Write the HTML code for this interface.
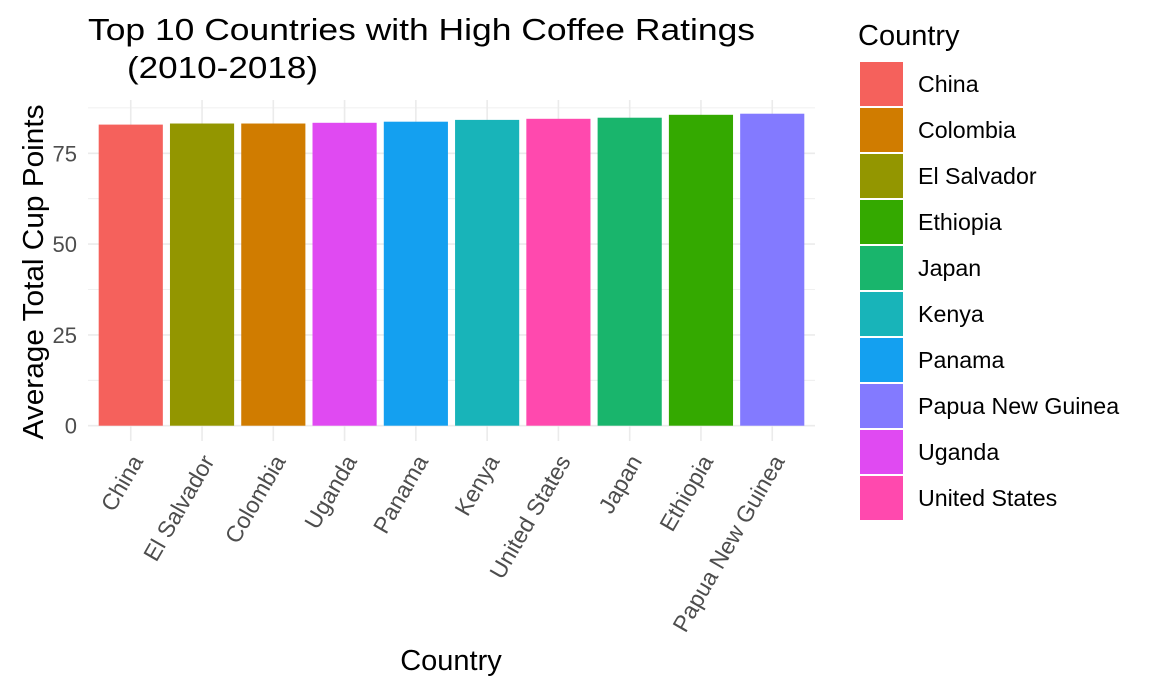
<!DOCTYPE html>
<html><head><meta charset="utf-8"><style>
body{margin:0;background:#fff;font-family:"Liberation Sans",Arial,sans-serif;}
svg text{font-family:"Liberation Sans",Arial,sans-serif;}
</style></head><body>
<svg id="chart" width="1152" height="691">
<text x="88" y="40" font-size="31" textLength="667" lengthAdjust="spacingAndGlyphs" fill="#000">Top 10 Countries with High Coffee Ratings</text>
<text x="127" y="78" font-size="31" textLength="191" lengthAdjust="spacingAndGlyphs" fill="#000">(2010-2018)</text>
<g id="grid"></g><g id="bars"></g><g id="yticks"></g><g id="xticks"></g><g id="legend"></g>
<text x="0" y="0" font-size="29" textLength="335" lengthAdjust="spacingAndGlyphs" transform="translate(43,272) rotate(-90)" text-anchor="middle" fill="#000">Average Total Cup Points</text>
<text x="451" y="670" font-size="29" text-anchor="middle" fill="#000">Country</text>
</svg>
<script>
const categories=["China","El Salvador","Colombia","Uganda","Panama","Kenya","United States","Japan","Ethiopia","Papua New Guinea"];
const values=[82.9,83.2,83.2,83.4,83.7,84.2,84.5,84.8,85.6,85.9];
const colors=["#F5615C","#939600","#D07C00","#E04AF2","#14A0F0","#18B4B9","#FF49AE","#19B56C","#34A900","#837AFF"];
const yTicks=[0,25,50,75];
const legendNames=["China","Colombia","El Salvador","Ethiopia","Japan","Kenya","Panama","Papua New Guinea","Uganda","United States"];
const legendColors=["#F5615C","#D07C00","#939600","#34A900","#19B56C","#18B4B9","#14A0F0","#837AFF","#E04AF2","#FF49AE"];
const NS="http://www.w3.org/2000/svg";
const L=88,R=815,T=100,B=441;
const y0=425.7,pxPer=3.632;
function y(v){return y0-v*pxPer;}
const step=(R-L)/(categories.length+0.2);
function x(i){return L+step*(i+0.6);}
function mk(tag,attrs,parent){const e=document.createElementNS(NS,tag);for(const k in attrs)e.setAttribute(k,attrs[k]);document.getElementById(parent).appendChild(e);return e;}
for(let v=0;v<=87.5;v+=12.5){
  const major=v%25===0;
  const g=mk('line',{x1:L,x2:R,y1:y(v),y2:y(v),stroke:'#ebebeb','stroke-width':major?1.6:0.8},'grid');
  
  
}
categories.forEach((c,i)=>{
  const g=mk('line',{x1:x(i),x2:x(i),y1:T,y2:B,stroke:'#ebebeb','stroke-width':1.6},'grid');
  
  
  const bw=step*0.9;
  const b=mk('rect',{x:x(i)-bw/2,y:y(values[i]),width:bw,height:y(0)-y(values[i]),fill:colors[i]},'bars');
  
  
  const t=mk('text',{x:0,y:0,'font-size':23,fill:'#4d4d4d','text-anchor':'end',transform:`translate(${x(i)+13},${B+20}) rotate(-60)`},'xticks');
  t.textContent=c;
  
  
});
yTicks.forEach(v=>{
  const t=mk('text',{x:L-11,y:y(v)+8,'font-size':22,fill:'#4d4d4d','text-anchor':'end'},'yticks');
  t.textContent=v;
  
  
});
const lt=mk('text',{x:858,y:45,'font-size':29,fill:'#000'},'legend');
lt.textContent='Country';


legendNames.forEach((n,i)=>{
  const yy=62+i*46;
  const r=mk('rect',{x:860,y:yy,width:43,height:44,fill:legendColors[i]},'legend');
  
  
  const t=mk('text',{x:918,y:yy+30,'font-size':23.2,fill:'#000'},'legend');
  t.textContent=n;
  
  
});
</script>
</body></html>
